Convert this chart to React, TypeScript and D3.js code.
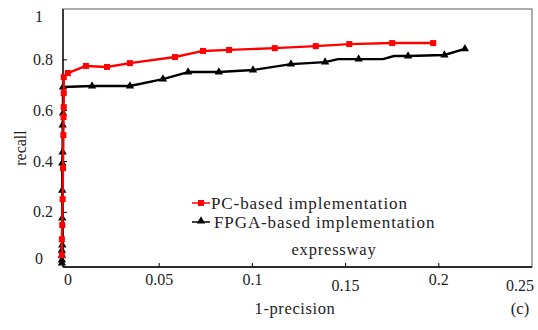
import React from 'react';
import * as d3 from 'd3';

// PC-based implementation (red squares)
const pcX = [-0.0022, -0.0022, -0.002, -0.0018, -0.0016, -0.0014, -0.0013, -0.0012, -0.0012, -0.0012, 0.001, 0.0107, 0.022, 0.0343, 0.0585, 0.0735, 0.0875, 0.112, 0.134, 0.152, 0.175, 0.197];
const pcY = [0.031, 0.094, 0.15, 0.252, 0.374, 0.504, 0.575, 0.614, 0.669, 0.732, 0.748, 0.776, 0.772, 0.787, 0.811, 0.835, 0.839, 0.846, 0.854, 0.862, 0.866, 0.866];

// FPGA-based implementation (black triangles)
const fpgaX = [-0.0022, -0.0022, -0.0022, -0.0022, -0.002, -0.002, -0.002, -0.002, -0.0018, -0.0018, -0.0016, -0.0016, 0.014, 0.0343, 0.052, 0.0655, 0.082, 0.1003, 0.1207, 0.139, 0.146, 0.157, 0.17, 0.176, 0.1835, 0.203, 0.214];
const fpgaY = [0.0, 0.012, 0.031, 0.051, 0.071, 0.177, 0.287, 0.394, 0.437, 0.543, 0.59, 0.693, 0.697, 0.697, 0.724, 0.752, 0.752, 0.76, 0.783, 0.791, 0.803, 0.803, 0.803, 0.815, 0.815, 0.819, 0.843];
const fpgaMarked = [true, true, true, true, true, true, true, true, true, true, true, true, true, true, true, true, true, true, true, true, false, true, false, false, true, true, true];

const xTicks = [0, 0.05, 0.1, 0.15, 0.2, 0.25];
const xTickLabels = ['0', '0.05', '0.1', '0.15', '0.2', '0.25'];
const yTicks = [0, 0.2, 0.4, 0.6, 0.8, 1];
const yTickLabels = ['0', '0.2', '0.4', '0.6', '0.8', '1'];

const seriesNames = ['PC-based implementation', 'FPGA-based implementation'];

const W = 538;
const H = 330;
const left = 63;
const top = 9;
const right = 532;
const bottom = 267;

const font = '"Liberation Serif", "DejaVu Serif", serif';

export default function App() {
  const x = d3.scaleLinear().domain([-0.0016, 0.25]).range([left, right]);
  const y = d3.scaleLinear().domain([-0.015, 1]).range([bottom, top]);

  const line = d3
    .line<[number, number]>()
    .x((d) => x(d[0]))
    .y((d) => y(d[1]));

  const pc: [number, number][] = pcX.map((v, i) => [v, pcY[i]]);
  const fpga: [number, number][] = fpgaX.map((v, i) => [v, fpgaY[i]]);

  const tri = d3.symbol().type(d3.symbolTriangle).size(30)();

  return (
    <svg width={W} height={H} style={{ position: 'absolute', left: 0, top: 0, background: '#fff' }}>
      {/* frame */}
      <rect x={left} y={top} width={right - left} height={bottom - top} fill="none" stroke="#777" strokeWidth={1.2} />
      <line x1={left} x2={left} y1={top} y2={bottom} stroke="#000" strokeWidth={1.3} />
      <line x1={left} x2={right} y1={bottom} y2={bottom} stroke="#000" strokeWidth={1.3} />

      {/* ticks */}
      {yTicks.slice(1, -1).map((t) => (
        <line key={'yt' + t} x1={left} x2={left + 4} y1={y(t)} y2={y(t)} stroke="#000" strokeWidth={1} />
      ))}
      {xTicks.slice(1, -1).map((t) => (
        <line key={'xt' + t} x1={x(t)} x2={x(t)} y1={bottom} y2={bottom - 4} stroke="#000" strokeWidth={1} />
      ))}

      {/* tick labels */}
      {yTicks.map((t, i) => {
        let yy = y(t) + 5;
        if (t === 1) yy += 8;
        if (t === 0) yy -= 4;
        return (
          <text key={'yl' + t} x={i === 0 || i === yTicks.length - 1 ? 39 : 43} y={yy} textAnchor="middle" fontFamily={font} fontSize={16} fill="#222">
            {yTickLabels[i]}
          </text>
        );
      })}
      {xTicks.map((t, i) => {
        let xx = x(t);
        if (i === 0) xx += 2;
        if (i === xTicks.length - 1) xx = right - 12;
        return (
          <text key={'xl' + t} x={xx} y={t === 0.15 || t === 0.25 ? 291 : 285} textAnchor="middle" fontFamily={font} fontSize={16} fill="#222">
            {xTickLabels[i]}
          </text>
        );
      })}

      {/* axis titles */}
      <text x={295} y={314} textAnchor="middle" fontFamily={font} fontSize={16.5} letterSpacing={0.6} fill="#222">1-precision</text>
      <text x={520} y={314} textAnchor="middle" fontFamily={font} fontSize={16.5} fill="#222">(c)</text>
      <text transform="translate(26,148) rotate(-90)" textAnchor="middle" fontFamily={font} fontSize={16} fill="#222">recall</text>
      <text x={334} y={255} textAnchor="middle" fontFamily={font} fontSize={16.5} letterSpacing={0.8} fill="#222">expressway</text>

      {/* FPGA series */}
      <path d={line(fpga) ?? ''} fill="none" stroke="#000" strokeWidth={2.4} strokeLinejoin="round" />
      {fpga.map((d, i) =>
        fpgaMarked[i] ? <path key={'f' + i} d={tri ?? ''} transform={`translate(${x(d[0])},${y(d[1])})`} fill="#000" /> : null
      )}

      {/* PC series */}
      <path d={line(pc) ?? ''} fill="none" stroke="#ff0000" strokeWidth={2.4} strokeLinejoin="round" />
      {pc.map((d, i) => (
        <rect key={'p' + i} x={x(d[0]) - 3} y={y(d[1]) - 3} width={6} height={6} fill="#ff0000" />
      ))}

      {/* legend */}
      <g>
        <line x1={192} x2={210} y1={203} y2={203} stroke="#ff0000" strokeWidth={1.5} />
        <rect x={198} y={200} width={6} height={6} fill="#ff0000" />
        <text x={211} y={209} fontFamily={font} fontSize={17} letterSpacing={0.9} fill="#222">{seriesNames[0]}</text>
        <line x1={192} x2={210} y1={222} y2={222} stroke="#000" strokeWidth={1.5} />
        <path d={tri ?? ''} transform="translate(201,221)" fill="#000" />
        <text x={214} y={228} fontFamily={font} fontSize={17} letterSpacing={0.9} fill="#222">{seriesNames[1]}</text>
      </g>
    </svg>
  );
}
